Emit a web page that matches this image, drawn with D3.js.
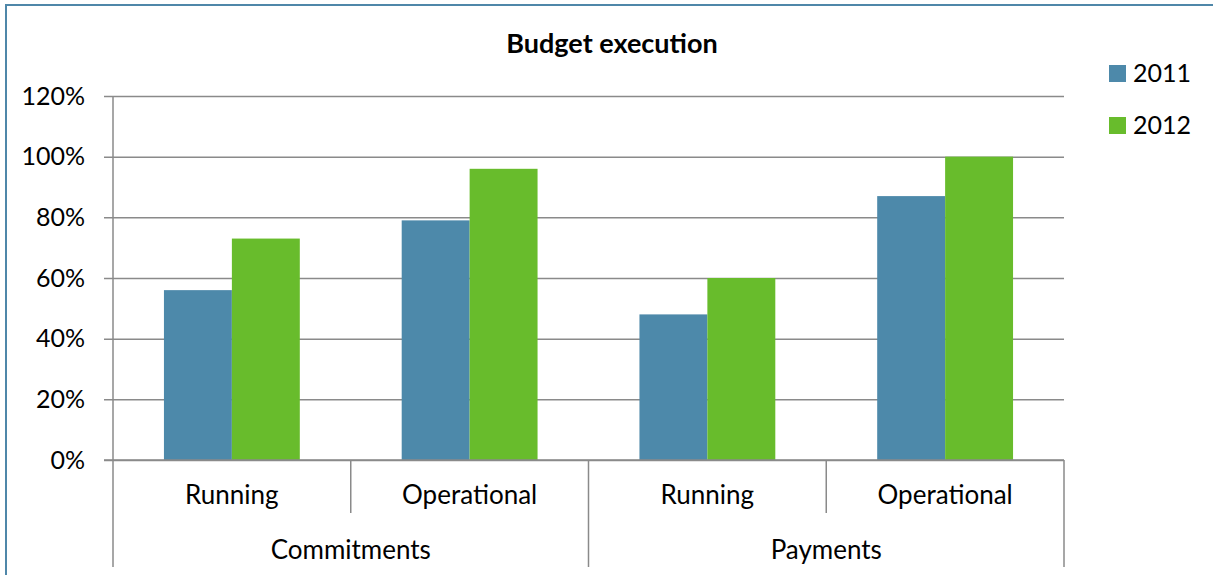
<!DOCTYPE html>
<html>
<head>
<meta charset="utf-8">
<script src="https://cdn.jsdelivr.net/npm/d3@7"></script>
<style>
  body { margin: 0; background: #fff; }
  text { font-family: Lato, "Open Sans", sans-serif; fill: #000; }
</style>
</head>
<body>
<script>
// chart data
var categories = ["Running", "Operational", "Running", "Operational"];
var groups = ["Commitments", "Payments"];
var seriesNames = ["2011", "2012"];
var values2011 = [56, 79, 48, 87];
var values2012 = [73, 96, 60, 100];
var yTicks = [0, 20, 40, 60, 80, 100, 120];
var colors = ["#4d89aa", "#68bc2c"];

function main(){
  var w = 1213, h = 575;
  var left = 113, right = 1064, top = 96, bottom = 460;

  var svg = d3.select("body").append("svg")
    .attr("width", w)
    .attr("height", h);

  //outer frame, right and bottom edges run off the picture
  svg.append("rect")
    .attr("x", 6).attr("y", 5)
    .attr("width", 1300).attr("height", 700)
    .attr("fill", "none")
    .attr("stroke", "#4f87a9")
    .attr("stroke-width", 2);

  var y = d3.scaleLinear().domain([0, 120]).range([bottom, top]);
  var x0 = d3.scaleBand().domain(d3.range(categories.length)).range([left, right]);
  var xg = d3.scaleBand().domain(groups).range([left, right]);
  var x1 = d3.scaleBand().domain(seriesNames).range([0, x0.bandwidth()])
    .paddingInner(0).paddingOuter(0.75);

  //gridlines + tick marks + labels in one axis
  var yAxis = d3.axisLeft(y)
    .tickValues(yTicks)
    .tickSize(right - 104)
    .tickPadding(19)
    .tickFormat(function(d){ return d + "%"; });

  var gy = svg.append("g")
    .attr("transform", "translate(" + right + ",0)")
    .call(yAxis);
  gy.select(".domain").remove();
  gy.selectAll("line").attr("stroke", "#8a8a8a").attr("stroke-width", 1.5);
  gy.selectAll("text")
    .attr("font-family", "Lato")
    .attr("font-size", 25)
    .attr("fill", "#000");

  //vertical axis line
  svg.append("line")
    .attr("x1", left).attr("x2", left)
    .attr("y1", top).attr("y2", bottom)
    .attr("stroke", "#8a8a8a").attr("stroke-width", 1.5);

  //bars
  var rows = categories.map(function(c, i){
    return { idx: i, vals: [values2011[i], values2012[i]] };
  });

  var bars = svg.append("g").selectAll("g")
    .data(rows)
    .enter()
    .append("g")
    .attr("transform", function(d){ return "translate(" + x0(d.idx) + ",0)"; });

  bars.selectAll("rect")
    .data(function(d){
      return d.vals.map(function(v, j){ return { s: seriesNames[j], v: v, j: j }; });
    })
    .enter()
    .append("rect")
    .attr("x", function(d){ return x1(d.s); })
    .attr("width", x1.bandwidth())
    .attr("y", function(d){ return y(d.v); })
    .attr("height", function(d){ return y(0) - y(d.v); })
    .attr("fill", function(d){ return colors[d.j]; });

  //redraw the zero line on top of bars
  svg.append("line")
    .attr("x1", 104).attr("x2", right)
    .attr("y1", y(0)).attr("y2", y(0))
    .attr("stroke", "#8a8a8a").attr("stroke-width", 1.5);

  //category separators: short ones between subcategories, long ones between groups
  var cuts = d3.range(categories.length + 1);
  svg.append("g").selectAll("line")
    .data(cuts)
    .enter()
    .append("line")
    .attr("x1", function(d){ return left + d * x0.step(); })
    .attr("x2", function(d){ return left + d * x0.step(); })
    .attr("y1", bottom)
    .attr("y2", function(d){ return d % 2 == 0 ? 567 : 513; })
    .attr("stroke", "#8a8a8a").attr("stroke-width", 1.5);

  svg.append("g").selectAll("text")
    .data(rows)
    .enter()
    .append("text")
    .attr("x", function(d){ return x0(d.idx) + x0.bandwidth() / 2; })
    .attr("y", 504)
    .attr("text-anchor", "middle")
    .attr("font-size", 26)
    .text(function(d){ return categories[d.idx]; });

  svg.append("g").selectAll("text")
    .data(groups)
    .enter()
    .append("text")
    .attr("x", function(d){ return xg(d) + xg.bandwidth() / 2; })
    .attr("y", 559)
    .attr("text-anchor", "middle")
    .attr("font-size", 26)
    .text(function(d){ return d; });

  //title
  svg.append("text")
    .attr("x", 612)
    .attr("y", 53)
    .attr("text-anchor", "middle")
    .attr("font-size", 27)
    .attr("font-weight", "bold")
    .text("Budget execution");

  //legend
  var lg = svg.append("g").selectAll("g")
    .data(seriesNames)
    .enter()
    .append("g")
    .attr("transform", function(d, i){ return "translate(1109," + (65 + i * 52) + ")"; });
  lg.append("rect")
    .attr("width", 17).attr("height", 17)
    .attr("fill", function(d, i){ return colors[i]; });
  lg.append("text")
    .attr("x", 24)
    .attr("y", 17)
    .attr("font-size", 25)
    .text(function(d){ return d; });
}

window.onload = function() {
  main();
};
</script>
</body>
</html>
